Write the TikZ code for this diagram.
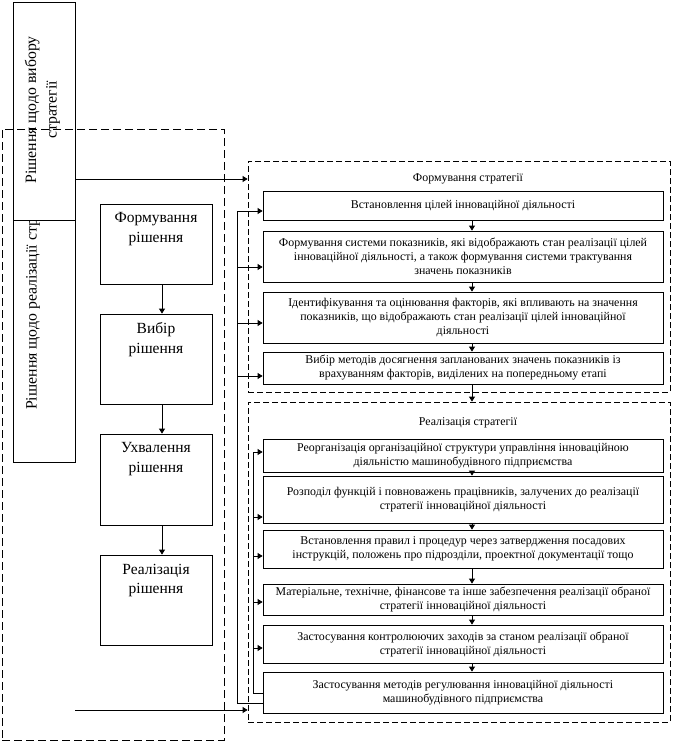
\documentclass[tikz,border=0pt]{standalone}
\usepackage{fontspec}
\setmainfont{Liberation Serif}
\usetikzlibrary{arrows.meta}
\begin{document}
\begin{tikzpicture}[x=1pt,y=-1pt,
  lbox/.style={draw, fill=white, line width=0.8pt, inner sep=0pt, minimum width=62pt},
  rot/.style={rotate=90, font=\fontsize{15.8}{20.5}\selectfont, inner sep=0pt, align=center},
  mbox/.style={draw, fill=white, line width=0.8pt, minimum width=112pt, inner sep=0pt},
  mlab/.style={anchor=north, align=center, font=\fontsize{15.5}{19.5}\selectfont, inner sep=0pt, yshift=-9pt},
  rbox/.style={draw, fill=white, line width=0.8pt, minimum width=400pt, align=center, font=\fontsize{11.9}{14}\selectfont, inner sep=1pt},
  dbox/.style={draw, dash pattern=on 6pt off 3pt, line width=0.8pt, minimum width=422pt, inner sep=0pt},
  bigdash/.style={draw, dash pattern=on 8pt off 4pt, line width=0.8pt, inner sep=0pt},
  ttl/.style={font=\fontsize{11.9}{14}\selectfont, inner sep=0pt},
  arr/.style={-{Triangle[length=5pt,width=6pt]}, line width=0.8pt},
  ln/.style={line width=0.8pt}]
\useasboundingbox (0,0) rectangle (674,742);

% left column
\node[lbox, minimum height=242pt] (dr) at (44,341) {};
\node[rot, anchor=west] (drt) at (33,410) {Рішення щодо реалізації стратегії};
\node[lbox, minimum height=218pt] (dv) at (44,111) {};
\node[rot] (dvt) at (42.5,110) {Рішення щодо вибору\\стратегії};

% big dashed frame
\node[bigdash, minimum width=222pt, minimum height=611pt] (big) at (113,434.5) {};

% middle column
\node[mbox, minimum height=80pt, label={[mlab]north:{Формування\\рішення}}] (m1) at (156,244) {};
\node[mbox, minimum height=90pt, label={[mlab]north:{Вибір\\рішення}}] (m2) at (156,359) {};
\node[mbox, minimum height=91pt, label={[mlab]north:{Ухвалення\\рішення}}] (m3) at (156,479.5) {};
\node[mbox, minimum height=90pt, label={[mlab]north:{Реалізація\\рішення}}] (m4) at (156,600) {};
\draw[arr] ([xshift=6pt]m1.south) -- ([xshift=6pt]m2.north);
\draw[arr] ([xshift=6pt]m2.south) -- ([xshift=6pt]m3.north);
\draw[arr] ([xshift=6pt]m3.south) -- ([xshift=6pt]m4.north);

% dashed groups
\node[dbox, minimum height=231pt] (fs) at (459,276.5) {};
\node[dbox, minimum height=320pt] (rs) at (459,562) {};
\node[ttl] (fst) at (468,179) {Формування стратегії};
\node[ttl] (rst) at (468,423) {Реалізація стратегії};

% formation boxes
\node[rbox, minimum height=29pt] (f1) at (463,205.5) {Встановлення цілей інноваційної діяльності};
\node[rbox, minimum height=51pt] (f2) at (463,256.5) {Формування системи показників, які відображають стан реалізації цілей\\інноваційної діяльності, а також формування системи трактування\\значень показників};
\node[rbox, minimum height=51pt] (f3) at (463,317.5) {Ідентифікування та оцінювання факторів, які впливають на значення\\показників, що відображають стан реалізації цілей інноваційної\\діяльності};
\node[rbox, minimum height=32pt] (f4) at (463,368) {Вибір методів досягнення запланованих значень показників із\\врахуванням факторів, виділених на попередньому етапі};

% realisation boxes
\node[rbox, minimum height=33pt] (r1) at (463,455.5) {Реорганізація організаційної структури управління інноваційною\\діяльністю машинобудівного підприємства};
\node[rbox, minimum height=47pt] (r2) at (463,499.5) {Розподіл функцій і повноважень працівників, залучених до реалізації\\стратегії інноваційної діяльності};
\node[rbox, minimum height=38pt] (r3) at (463,549) {Встановлення правил і процедур через затвердження посадових\\інструкцій, положень про підрозділи, проектної документації тощо};
\node[rbox, minimum height=31pt] (r4) at (463,599.5) {Матеріальне, технічне, фінансове та інше забезпечення реалізації обраної\\стратегії інноваційної діяльності};
\node[rbox, minimum height=38pt] (r5) at (463,644) {Застосування контролюючих заходів за станом реалізації обраної\\стратегії інноваційної діяльності};
\node[rbox, minimum height=41pt] (r6) at (463,692.5) {Застосування методів регулювання інноваційної діяльності\\машинобудівного підприємства};

% vertical chain arrows
\draw[arr] ([xshift=9pt]f1.south) -- ([xshift=9pt]f2.north);
\draw[arr] ([xshift=9pt]f2.south) -- ([xshift=9pt]f3.north);
\draw[arr] ([xshift=9pt]f3.south) -- ([xshift=9pt]f4.north);
\draw[arr] ([xshift=9pt]f4.south) -- ([xshift=13pt]rs.north);
\draw[arr] ([xshift=9pt]r1.south) -- ([xshift=9pt]r2.north);
\draw[arr] ([xshift=9pt]r2.south) -- ([xshift=9pt]r3.north);
\draw[arr] ([xshift=9pt]r3.south) -- ([xshift=9pt]r4.north);
\draw[arr] ([xshift=9pt]r4.south) -- ([xshift=9pt]r5.north);
\draw[arr] ([xshift=9pt]r5.south) -- ([xshift=9pt]r6.north);

% inputs from left column
\draw[arr] (dv.east |- 0,179) -- (fs.west |- 0,179);
\coordinate (b0) at (75,710);
\draw[arr] (b0) -- (rs.west |- b0);

% outer feedback loop
\draw[arr] (r6.west |- 0,703) -- (237,703) -- (237,211) -- (f1.west |- 0,211);
\draw[arr] (237,267) -- (f2.west |- 0,267);
\draw[arr] (237,323) -- (f3.west |- 0,323);
\draw[arr] (237,376) -- (f4.west |- 0,376);

% inner feedback loop
\draw[arr] (r6.west |- 0,693) -- (253,693) -- (253,452) -- (r1.west |- 0,452);
\draw[arr] (253,517) -- (r2.west |- 0,517);
\draw[arr] (253,556) -- (r3.west |- 0,556);
\draw[arr] (253,602) -- (r4.west |- 0,602);
\draw[arr] (253,648) -- (r5.west |- 0,648);
\end{tikzpicture}
\end{document}
